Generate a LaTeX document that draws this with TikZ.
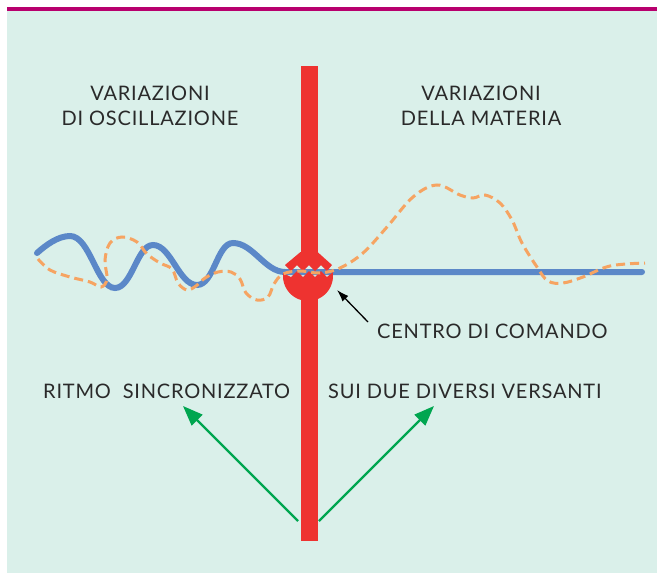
\documentclass[tikz,border=0pt]{standalone}
\usepackage{fontspec}
\setmainfont{Lato}
\newfontfamily\lblfont{Lato}[LetterSpace=4]
\usetikzlibrary{arrows.meta}
\definecolor{bgmint}{HTML}{DAF0EA}
\definecolor{topline}{HTML}{B8006E}
\definecolor{barred}{HTML}{EE3330}
\definecolor{waveblue}{HTML}{5B88C8}
\definecolor{waveorange}{HTML}{F6A462}
\definecolor{arrowgreen}{HTML}{00A650}
\definecolor{txt}{HTML}{2A2A2A}
\tikzset{
  lbl/.style={font=\lblfont\fontsize{20}{24}\selectfont, text=txt, inner sep=0pt, anchor=base},
  bluewave/.style={draw=waveblue, line width=6pt, line cap=round},
  orangewave/.style={draw=waveorange, line width=3pt, dash pattern=on 9pt off 5pt},
  greenarrow/.style={draw=arrowgreen, line width=2.2pt, -{Triangle[length=20pt,width=15pt]}},
  blackarrow/.style={draw=black, line width=1.3pt, -{Latex[length=12pt,width=8pt]}},
  redfill/.style={fill=barred, draw=none}
}
\begin{document}
\begin{tikzpicture}[x=1pt,y=-1pt]
\useasboundingbox (0,0) rectangle (657,573);
% background
\fill[bgmint] (7,10) rectangle (657,573);
\fill[topline] (7,7) rectangle (657,10.5);

% blue wave
\draw[bluewave] (37,253) .. controls (46,245) and (58,236) .. (70,236)
  .. controls (90,236) and (97,288) .. (115,288)
  .. controls (132,288) and (137,245) .. (153,245)
  .. controls (171,245) and (179,285) .. (197,285)
  .. controls (214,285) and (217,243) .. (233,243)
  .. controls (253,243) and (265,272) .. (285,272) -- (642,272);

% red bar and centre
\fill[redfill] (300.5,66) rectangle (317.5,254);
\fill[redfill] (300.5,252) -- (285,265) -- (291,271) -- (297,265) -- (303,271) -- (309,265) -- (315,271) -- (321,265) -- (327,271) -- (332,265) -- (317.5,252) -- cycle;
\fill[redfill] (283,273) -- (291,277) -- (297,271) -- (303,277) -- (309,271) -- (315,277) -- (321,271) -- (327,277) -- (333,272) -- plot[domain=-9:187, samples=40] ({308+25*cos(\x)},{276+25*sin(\x)}) -- cycle;
\fill[redfill] (300.5,290) rectangle (317.5,541);

% orange dashed wave
\draw[orangewave] plot[smooth, tension=0.6] coordinates {(38,259) (50,270) (70,277) (90,282) (101,287) (107,279) (105,260) (110,243) (122,237) (137,242) (147,254) (160,263) (172,269) (178,283) (187,290) (196,286) (205,278) (218,272) (231,272) (240,279) (246,293) (257,300) (268,297) (274,284) (283,274) (300,271) (320,273) (340,268) (363,253) (387,227) (413,197) (437,185) (460,195) (473,198) (485,195) (500,203) (512,220) (522,243) (537,267) (548,281) (563,283) (583,277) (610,266) (645,263)};

% labels
\node[lbl] (vo1) at (150,100) {VARIAZIONI};
\node[lbl] (vo2) at (150,125) {DI OSCILLAZIONE};
\node[lbl] (vm1) at (481,100) {VARIAZIONI};
\node[lbl] (vm2) at (481,125) {DELLA MATERIA};
\node[lbl, anchor=base west] (cdc) at (377,338) {CENTRO DI COMANDO};
\node[lbl, anchor=base west] (rs) at (43,398) {RITMO\ \ SINCRONIZZATO};
\node[lbl, anchor=base west] (sdv) at (328,398) {SUI DUE DIVERSI VERSANTI};

% arrows
\coordinate (ctail) at (368,322);
\coordinate (ctip) at (337,290);
\draw[blackarrow] (ctail) -- (ctip);
\coordinate (gs1) at (298,521);
\coordinate (gt1) at (183,406);
\coordinate (gs2) at (319,521);
\coordinate (gt2) at (434,406);
\draw[greenarrow] (gs1) -- (gt1);
\draw[greenarrow] (gs2) -- (gt2);
\end{tikzpicture}
\end{document}
